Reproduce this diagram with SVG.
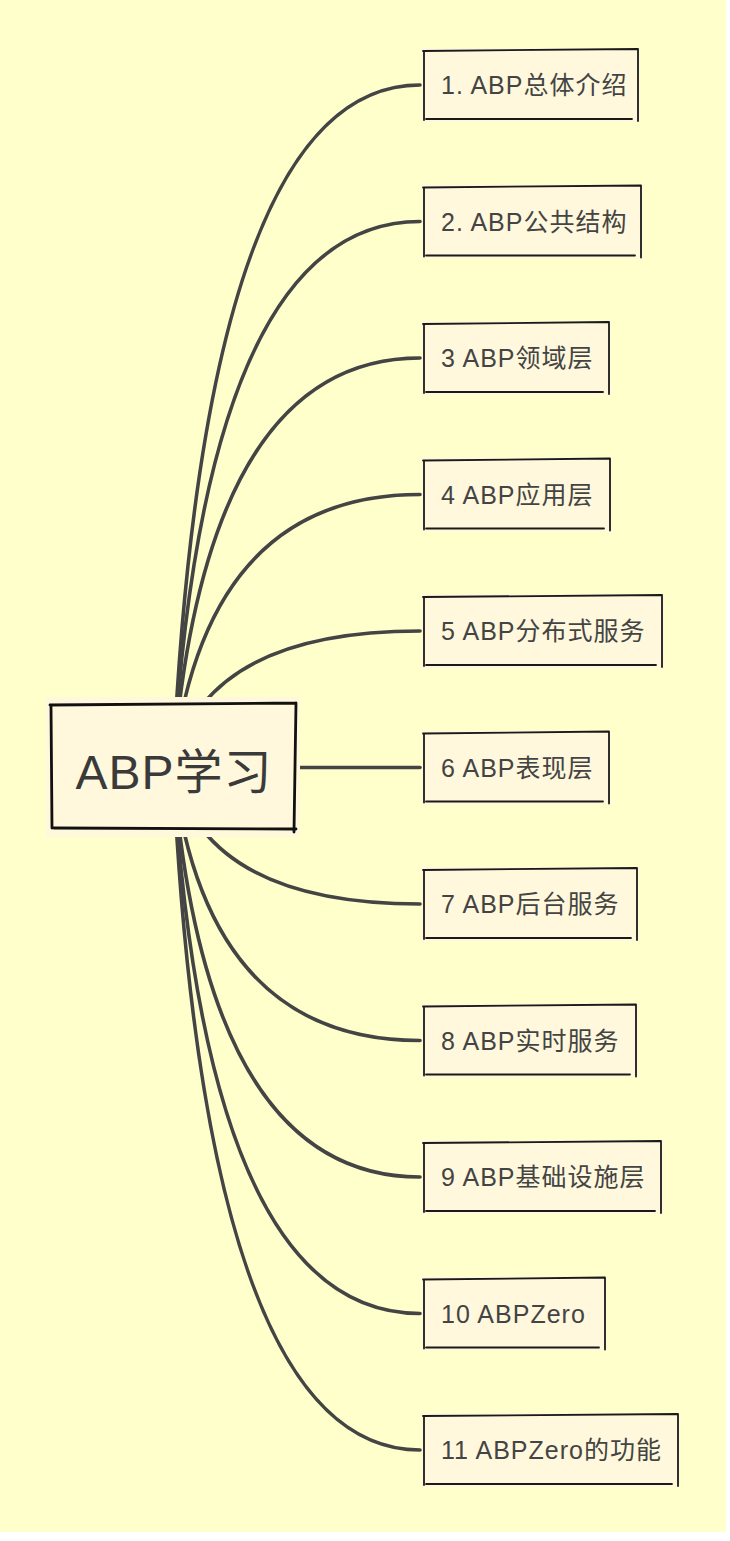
<svg xmlns="http://www.w3.org/2000/svg" width="730" height="1541" viewBox="0 0 730 1541">
<style>
.bg{fill:#FFFFCC}
.fill{fill:#FFF8DC}
.edge{fill:none;stroke:#444444;stroke-width:3.6;stroke-linecap:round}
.sk{fill:none;stroke:#1a1a1a;stroke-width:1.8;stroke-linecap:round;stroke-linejoin:round}
.skr{fill:none;stroke:#111111;stroke-width:2.8;stroke-linecap:round;stroke-linejoin:round}
.t{font-family:"Liberation Sans","Noto Sans CJK SC",sans-serif;font-size:25px;fill:#444444;letter-spacing:1px}
.rt{font-family:"Liberation Sans","Noto Sans CJK SC",sans-serif;font-size:48px;fill:#3a3a3a;letter-spacing:1px}
</style>
<rect class="bg" x="0" y="0" width="726" height="1532"/>
<g id="connectors">
<path class="edge" d="M173 767 Q205 85 420 85"/>
<path class="edge" d="M173 767 Q205 221.5 420 221.5"/>
<path class="edge" d="M173 767 Q205 358 420 358"/>
<path class="edge" d="M173 767 Q205 494.5 420 494.5"/>
<path class="edge" d="M173 767 Q205 631 420 631"/>
<path class="edge" d="M300 767.5 L420 767.5"/>
<path class="edge" d="M173 767 Q205 904 420 904"/>
<path class="edge" d="M173 767 Q205 1040.5 420 1040.5"/>
<path class="edge" d="M173 767 Q205 1177 420 1177"/>
<path class="edge" d="M173 767 Q205 1313.5 420 1313.5"/>
<path class="edge" d="M173 767 Q205 1450 420 1450"/>
</g>
<g id="root">
<rect class="fill" x="46" y="697" width="254" height="140"/>
<path class="skr" d="M50 705 L296 703 M296 703 L294 832 M296 829 L54 828 M52 828 L51 706"/>
<text class="rt" x="174" y="789" text-anchor="middle">ABP学习</text>
</g>
<g id="n1">
<rect class="fill" x="422" y="48" width="218" height="74"/>
<path class="sk" d="M423 51 L638 49 M638 49 L638 121 M632 119 L426 119 M424 120 L424 51"/>
<text class="t" x="441" y="94">1. ABP总体介绍</text>
</g>
<g id="n2">
<rect class="fill" x="422" y="184.5" width="221" height="74"/>
<path class="sk" d="M423 187.5 L641 185.5 M641 185.5 L641 257.5 M635 255.5 L426 255.5 M424 256.5 L424 187.5"/>
<text class="t" x="441" y="230.5">2. ABP公共结构</text>
</g>
<g id="n3">
<rect class="fill" x="422" y="321" width="189" height="74"/>
<path class="sk" d="M423 324 L609 322 M609 322 L609 394 M603 392 L426 392 M424 393 L424 324"/>
<text class="t" x="441" y="367">3 ABP领域层</text>
</g>
<g id="n4">
<rect class="fill" x="422" y="457.5" width="190" height="74"/>
<path class="sk" d="M423 460.5 L610 458.5 M610 458.5 L610 530.5 M604 528.5 L426 528.5 M424 529.5 L424 460.5"/>
<text class="t" x="441" y="503.5">4 ABP应用层</text>
</g>
<g id="n5">
<rect class="fill" x="422" y="594" width="242" height="74"/>
<path class="sk" d="M423 597 L662 595 M662 595 L662 667 M656 665 L426 665 M424 666 L424 597"/>
<text class="t" x="441" y="640">5 ABP分布式服务</text>
</g>
<g id="n6">
<rect class="fill" x="422" y="730.5" width="189" height="74"/>
<path class="sk" d="M423 733.5 L609 731.5 M609 731.5 L609 803.5 M603 801.5 L426 801.5 M424 802.5 L424 733.5"/>
<text class="t" x="441" y="776.5">6 ABP表现层</text>
</g>
<g id="n7">
<rect class="fill" x="422" y="867" width="217" height="74"/>
<path class="sk" d="M423 870 L637 868 M637 868 L637 940 M631 938 L426 938 M424 939 L424 870"/>
<text class="t" x="441" y="913">7 ABP后台服务</text>
</g>
<g id="n8">
<rect class="fill" x="422" y="1003.5" width="216" height="74"/>
<path class="sk" d="M423 1006.5 L636 1004.5 M636 1004.5 L636 1076.5 M630 1074.5 L426 1074.5 M424 1075.5 L424 1006.5"/>
<text class="t" x="441" y="1049.5">8 ABP实时服务</text>
</g>
<g id="n9">
<rect class="fill" x="422" y="1140" width="241" height="74"/>
<path class="sk" d="M423 1143 L661 1141 M661 1141 L661 1213 M655 1211 L426 1211 M424 1212 L424 1143"/>
<text class="t" x="441" y="1186">9 ABP基础设施层</text>
</g>
<g id="n10">
<rect class="fill" x="422" y="1276.5" width="185" height="74"/>
<path class="sk" d="M423 1279.5 L605 1277.5 M605 1277.5 L605 1349.5 M599 1347.5 L426 1347.5 M424 1348.5 L424 1279.5"/>
<text class="t" x="441" y="1322.5">10 ABPZero</text>
</g>
<g id="n11">
<rect class="fill" x="422" y="1413" width="258" height="74"/>
<path class="sk" d="M423 1416 L678 1414 M678 1414 L678 1486 M672 1484 L426 1484 M424 1485 L424 1416"/>
<text class="t" x="441" y="1459">11 ABPZero的功能</text>
</g>
</svg>
